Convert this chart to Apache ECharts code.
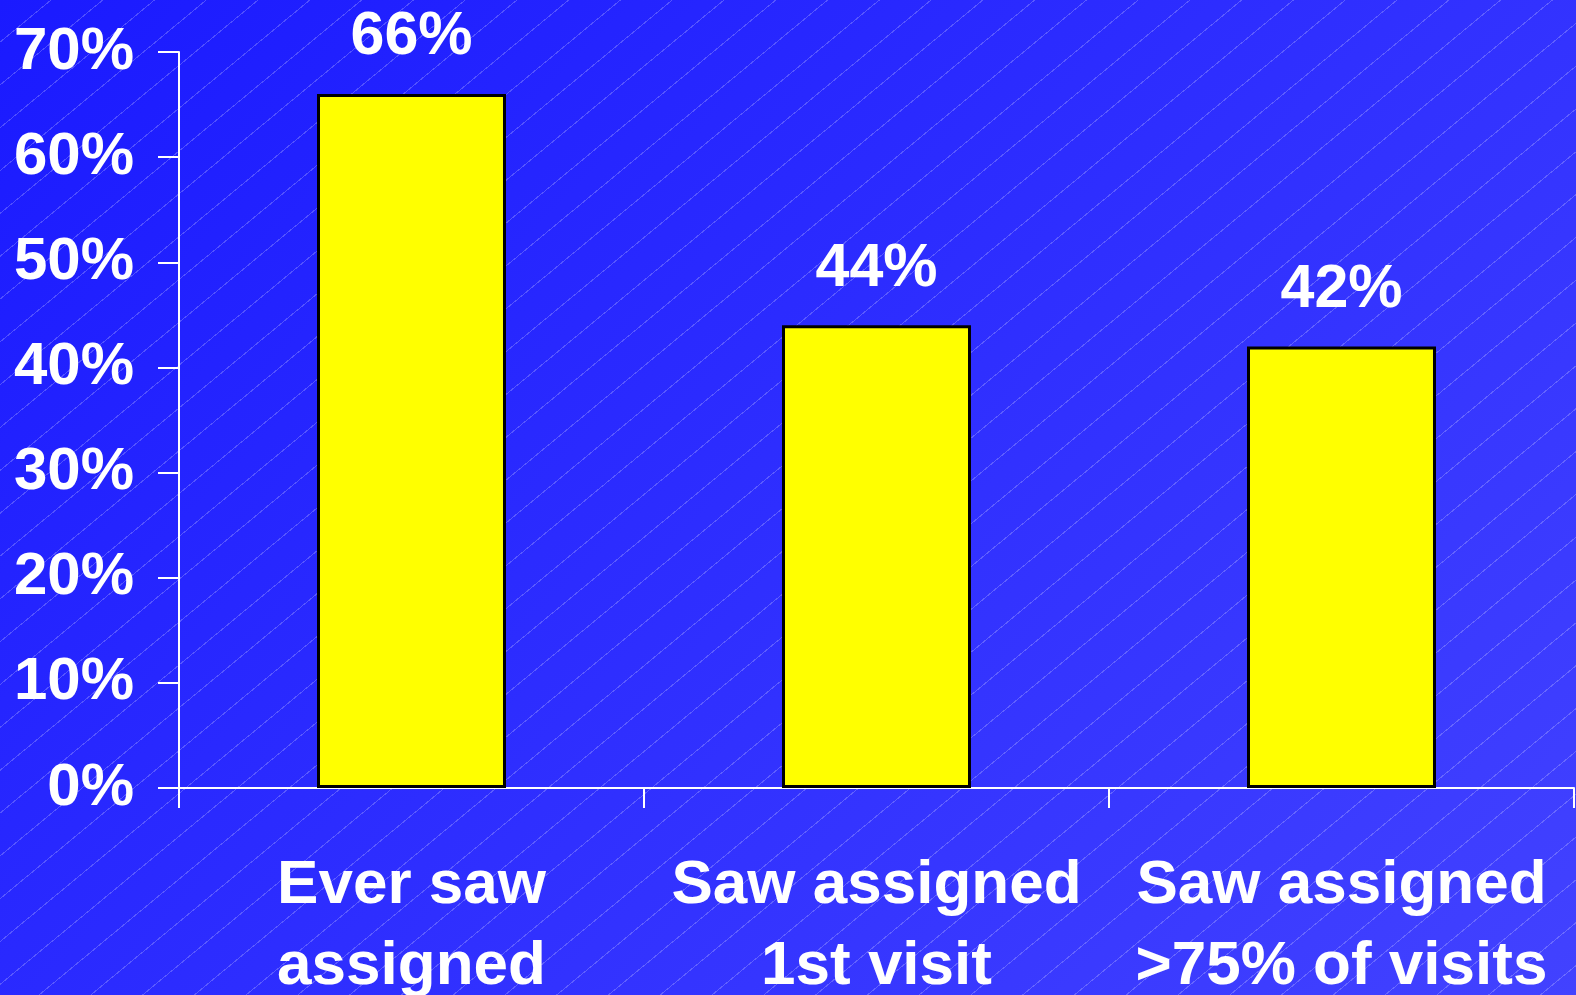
<!DOCTYPE html>
<html>
<head>
<meta charset="utf-8">
<script src="https://cdn.jsdelivr.net/npm/echarts@6/dist/echarts.min.js"></script>
<style>
  html, body { margin: 0; padding: 0; width: 1576px; height: 995px; overflow: hidden; }
  body {
    background:
      repeating-linear-gradient(140.4deg, rgba(255,255,255,0) 0px, rgba(255,255,255,0) 32px, rgba(255,255,255,0.22) 32px, rgba(255,255,255,0.22) 33px),
      linear-gradient(135deg, #1a1aff 0%, #2e2eff 50%, #4242ff 100%);
  }
  #chart { width: 1576px; height: 995px; }
</style>
</head>
<body>
<div id="chart"></div>
<script>
// Share of patients who saw their assigned clinician
const categories = ['Ever saw\nassigned', 'Saw assigned\n1st visit', 'Saw assigned\n>75% of visits'];
const percentValues = [66, 44, 42];
const yTicks = { min: 0, max: 70, step: 10 };

const FONT = "'Liberation Sans', Arial, Helvetica, sans-serif";

const chart = echarts.init(document.getElementById('chart'), null, { renderer: 'canvas' });

chart.setOption({
  backgroundColor: 'transparent',
  animation: false,
  grid: { left: 179, right: 2, top: 52, bottom: 207, containLabel: false, outerBoundsMode: 'none' },
  xAxis: {
    type: 'category',
    data: categories,
    boundaryGap: true,
    axisLine: { show: true, lineStyle: { color: '#ffffff', width: 2 } },
    axisTick: { show: true, length: 20, lineStyle: { color: '#ffffff', width: 2 } },
    axisLabel: {
      interval: 0,
      color: '#ffffff',
      fontFamily: FONT,
      fontWeight: 'bold',
      fontSize: 62,
      lineHeight: 81,
      margin: 57
    }
  },
  yAxis: {
    type: 'value',
    min: yTicks.min,
    max: yTicks.max,
    interval: yTicks.step,
    splitLine: { show: false },
    axisLine: { show: true, lineStyle: { color: '#ffffff', width: 2 } },
    axisTick: { show: true, length: 21, lineStyle: { color: '#ffffff', width: 2 } },
    axisLabel: {
      color: '#ffffff',
      fontFamily: FONT,
      fontWeight: 'bold',
      fontSize: 60,
      margin: 45,
      formatter: '{value}%'
    }
  },
  series: [{
    type: 'bar',
    data: percentValues,
    barWidth: 189,
    itemStyle: { color: '#ffff00', borderColor: '#000000', borderWidth: 3 },
    label: {
      show: true,
      position: 'top',
      distance: 26,
      color: '#ffffff',
      fontFamily: FONT,
      fontWeight: 'bold',
      fontSize: 61,
      formatter: '{c}%'
    }
  }]
});
</script>
</body>
</html>
